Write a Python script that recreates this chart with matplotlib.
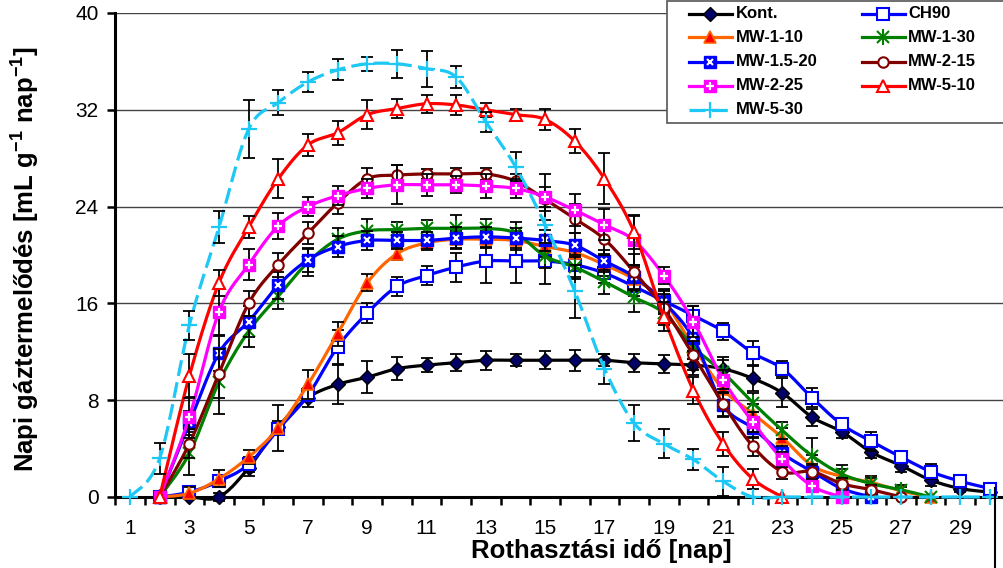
import numpy as np
import matplotlib
matplotlib.use("Agg")
import matplotlib.pyplot as plt
from matplotlib.patches import Rectangle

plt.rcParams['font.family'] = ['Liberation Sans', 'DejaVu Sans']
plt.rcParams['mathtext.fontset'] = 'custom'
plt.rcParams['mathtext.rm'] = 'Liberation Sans'
plt.rcParams['mathtext.bf'] = 'Liberation Sans:bold'

# ---------------- data ----------------
names = ["Kont.", "CH90", "MW-1-10", "MW-1-30", "MW-1.5-20",
         "MW-2-15", "MW-2-25", "MW-5-10", "MW-5-30"]

kont_start = 2
kont = [0, 0, 0, 2.4, 5.8, 8.2, 9.3, 9.9, 10.6, 10.9, 11.1, 11.3, 11.3, 11.3, 11.3,
        11.3, 11.1, 11.0, 10.9, 10.6, 9.8, 8.6, 6.6, 5.4, 3.7, 2.6, 1.4, 0.7, 0.4]
kont_err = [0, 0, 0.3, 0.7, 0.5, 0.8, 1.6, 1.3, 0.95, 0.6, 0.7, 0.8, 0.5, 0.75, 0.85,
            0.5, 0.75, 0.75, 0.8, 1.0, 1.05, 1.2, 0.7, 0.5, 0.5, 0.55, 0.5, 0.3, 0.3]

ch90_start = 2
ch90 = [0, 0.4, 1.3, 2.7, 5.6, 8.4, 12.4, 15.2, 17.4, 18.3, 19.0, 19.5, 19.5, 19.5, 19.2,
        18.5, 17.4, 16.2, 15.0, 13.7, 11.9, 10.6, 8.2, 6.0, 4.6, 3.3, 2.1, 1.3, 0.7]
ch90_err = [0, 0.3, 0.4, 0.6, 0.5, 0.5, 1.4, 0.8, 0.75, 0.75, 1.2, 1.8, 1.8, 1.9, 1.0,
            0.8, 0.8, 0.8, 0.8, 0.7, 1.0, 0.6, 0.8, 0.4, 0.8, 0.5, 0.6, 0.4, 0.4]

mw1_10_start = 2
mw1_10 = [0, 0.3, 1.5, 3.3, 5.7, 9.3, 13.5, 17.7, 20.1, 21.0, 21.3, 21.3, 21.2, 20.7, 20.2,
          19.2, 18.0, 16.2, 12.4, 8.9, 6.9, 4.9, 2.6, 1.7, 1.2, 0.5, 0]
mw1_10_err = [0, 0.5, 0.7, 0.6, 1.9, 1.2, 1.0, 0.7, 0.5, 0.6, 0.7, 0.7, 0.8, 0.9, 1.0,
              0.9, 1.0, 1.0, 1.0, 0.9, 0.8, 0.8, 0.9, 0.6, 0.5, 0.3, 0]

mw1_30_start = 2
mw1_30 = [0, 3.6, 9.5, 13.7, 16.6, 19.4, 21.3, 22.0, 22.1, 22.2, 22.2, 22.2, 21.8, 19.9, 19.0,
          17.8, 16.5, 15.2, 12.4, 10.3, 7.8, 5.5, 3.4, 1.9, 1.1, 0.6, 0]
mw1_30_err = [0, 1.8, 2.6, 1.3, 1.1, 1.1, 0.9, 1.0, 0.6, 0.7, 1.1, 0.8, 0.9, 1.0, 1.0,
              1.0, 1.2, 1.0, 1.0, 1.0, 0.8, 0.7, 1.5, 0.75, 0.5, 0.4, 0]

mw15_20_start = 2
mw15_20 = [0, 6.1, 11.9, 14.5, 17.5, 19.6, 20.7, 21.2, 21.2, 21.2, 21.4, 21.5, 21.4, 21.2, 20.8,
           19.5, 18.2, 16.1, 13.1, 7.6, 5.7, 3.6, 2.1, 0.7, 0]
mw15_20_err = [0, 1.0, 1.5, 1.3, 1.1, 1.0, 0.9, 0.8, 0.7, 0.7, 0.9, 0.8, 0.8, 0.9, 1.0,
               0.9, 1.0, 1.0, 1.0, 1.0, 0.8, 0.6, 0.5, 0.4, 0]

mw2_15_start = 2
mw2_15 = [0, 4.4, 10.2, 16.0, 19.2, 21.8, 24.3, 26.3, 26.6, 26.7, 26.7, 26.7, 26.1, 24.6, 23.0,
          21.3, 18.6, 15.6, 11.7, 7.7, 4.2, 2.1, 2.1, 1.1, 0.6, 0]
mw2_15_err = [0, 1.2, 2.0, 1.0, 1.0, 0.9, 0.9, 0.9, 0.8, 0.4, 0.5, 0.5, 0.6, 1.0, 1.2,
              1.3, 1.5, 1.2, 1.2, 1.0, 0.8, 0.6, 0.6, 0.5, 0.4, 0]

mw2_25_start = 2
mw2_25 = [0, 6.6, 15.3, 19.2, 22.4, 24.0, 24.9, 25.5, 25.8, 25.8, 25.8, 25.7, 25.5, 24.8, 23.7,
          22.5, 21.2, 18.3, 14.5, 9.7, 6.2, 3.1, 0.9, 0]
mw2_25_err = [0, 1.7, 2.0, 1.3, 1.1, 0.8, 0.8, 0.8, 1.6, 0.9, 0.7, 1.0, 0.8, 1.9, 1.3,
              1.3, 2.0, 0.7, 1.3, 0.8, 0.8, 0.6, 0.5, 0]

mw5_10_start = 2
mw5_10 = [0, 10.0, 17.7, 22.3, 26.3, 29.1, 30.1, 31.6, 32.1, 32.5, 32.4, 32.0, 31.6, 31.2, 29.4,
          26.3, 21.9, 14.9, 8.8, 4.4, 1.5, 0]
mw5_10_err = [0, 1.8, 1.1, 0.9, 1.6, 0.9, 1.0, 1.2, 0.8, 0.75, 0.85, 0.6, 0.5, 0.9, 1.0,
              2.1, 1.4, 1.2, 1.1, 1.0, 0.8, 0]

mw5_30_start = 1
mw5_30 = [0, 3.2, 14.2, 22.3, 30.4, 32.6, 34.3, 35.3, 35.8, 35.8, 35.4, 34.7, 31.0, 27.3, 22.5,
          17.0, 10.6, 6.1, 4.4, 3.1, 1.3, 0, 0, 0, 0, 0, 0, 0, 0, 0]
mw5_30_err = [0, 1.3, 1.2, 1.3, 2.4, 1.0, 0.8, 0.87, 0.6, 1.15, 1.5, 0.9, 0.8, 1.2, 1.5,
              2.2, 1.25, 1.5, 1.2, 0.9, 1.2, 0, 0, 0, 0, 0, 0, 0, 0, 0]

x_tick_labels = [str(d) for d in range(1, 30, 2)]
y_ticks = [0, 8, 16, 24, 32, 40]

series = [
    (kont_start, kont, kont_err),
    (ch90_start, ch90, ch90_err),
    (mw1_10_start, mw1_10, mw1_10_err),
    (mw1_30_start, mw1_30, mw1_30_err),
    (mw15_20_start, mw15_20, mw15_20_err),
    (mw2_15_start, mw2_15, mw2_15_err),
    (mw2_25_start, mw2_25, mw2_25_err),
    (mw5_10_start, mw5_10, mw5_10_err),
    (mw5_30_start, mw5_30, mw5_30_err),
]

# ---------------- styles ----------------
styles = [
    dict(c='black', ls='-', m=[('D', 7, '#000066', 'black', 1.0)]),
    dict(c='#0000FF', ls='-', m=[('s', 8, 'white', '#0000FF', 1.5)]),
    dict(c='#FF6600', ls='-', m=[('^', 9, '#FF0000', '#FF6600', 1.2)]),
    dict(c='#008000', ls='-', m=[('x', 9, 'none', '#008000', 1.5), ('|', 11, 'none', '#008000', 1.5)]),
    dict(c='#0000FF', ls='-', m=[('s', 9, '#0000FF', '#0000FF', 1.0), ('x', 5, 'none', 'white', 1.5)]),
    dict(c='#800000', ls='-', m=[('o', 7.5, 'white', '#800000', 1.5)]),
    dict(c='#FF00FF', ls='-', m=[('s', 9, '#FF00FF', '#FF00FF', 1.0), ('+', 6, 'none', 'white', 1.6)]),
    dict(c='#FF0000', ls='-', m=[('^', 9, 'white', '#FF0000', 1.5)]),
    dict(c='#1EC8F5', ls=(0, (5, 2)), m=[('+', 11, 'none', '#1EC8F5', 1.6)]),
]


def excel_smooth(x, y, n=24):
    pts = np.column_stack([x, y]).astype(float)
    out = [pts[0]]
    k = len(pts)
    t = np.linspace(0, 1, n + 1)[1:, None]
    for i in range(k - 1):
        p0 = pts[i - 1] if i > 0 else pts[i]
        p1 = pts[i]
        p2 = pts[i + 1]
        p3 = pts[i + 2] if i + 2 < k else pts[i + 1]
        c1 = p1 + (p2 - p0) / 6.0
        c2 = p2 - (p3 - p1) / 6.0
        seg = ((1 - t) ** 3) * p1 + 3 * ((1 - t) ** 2) * t * c1 + 3 * (1 - t) * t ** 2 * c2 + t ** 3 * p2
        out.extend(seg)
    out = np.array(out)
    return out[:, 0], out[:, 1]


W, H = 1004, 568
fig = plt.figure(figsize=(W / 100, H / 100), dpi=100)
ax = fig.add_axes([115.2 / W, 1 - 497 / H, (1004.8 - 115.2) / W, (497 - 13) / H])

for i, ((start, vals, errs), st) in enumerate(zip(series, styles)):
    days = np.arange(start, start + len(vals))
    vals = np.array(vals, float)
    errs = np.array(errs, float)
    z = 3 + i * 0.1
    sx, sy = excel_smooth(days, vals)
    ax.plot(sx, sy, color=st['c'], ls=st['ls'], lw=2.3, zorder=z, clip_on=False,
            solid_capstyle='round')
    mask = errs > 0
    ax.errorbar(days[mask], vals[mask], yerr=errs[mask], fmt='none', ecolor='black',
                elinewidth=1.3, capsize=4.5, capthick=1.3, zorder=z + 0.03, clip_on=False)
    for (mk, ms, fc, ec, mew) in st['m']:
        ax.plot(days, vals, ls='none', marker=mk, ms=ms, mfc=fc, mec=ec, mew=mew,
                zorder=z + 0.06, clip_on=False)

ax.set_xlim(0.5, 30.5)
ax.set_ylim(0, 40)
ax.set_yticks(y_ticks)
ax.set_yticklabels([str(v) for v in y_ticks], fontsize=15)
ax.set_xticks(np.arange(1, 30, 2))
ax.set_xticklabels(x_tick_labels, fontsize=15)
ax.set_xticks(np.arange(0.5, 31, 1), minor=True)
ax.tick_params(axis='x', which='major', length=0, pad=16)
ax.tick_params(axis='x', which='minor', length=6, width=1.8, direction='out')
ax.tick_params(axis='y', which='major', length=6, width=1.8, direction='out', pad=6)
ax.grid(axis='y', color='#444444', lw=1.0, zorder=1)
ax.set_axisbelow(True)
for s in ['top', 'right']:
    ax.spines[s].set_visible(False)
for s in ['left', 'bottom']:
    ax.spines[s].set_linewidth(2.2)
    ax.spines[s].set_zorder(2.5)

fig.text(601 / W, 1 - 551 / H, 'Rothasztási idő [nap]', ha='center', va='center',
         fontsize=18.5, fontweight='bold')
fig.text(25 / W, 1 - 259 / H, r'Napi gáztermelődés [mL g$^{\mathbf{-1}}$ nap$^{\mathbf{-1}}$]',
         ha='center', va='center', rotation=90, fontsize=18.5, fontweight='bold')

# ---------------- legend (drawn in pixel space) ----------------
lax = fig.add_axes([0, 0, 1, 1], zorder=10)
lax.set_xlim(0, W)
lax.set_ylim(H, 0)
lax.axis('off')
lax.add_patch(Rectangle((667, 1), 400, 122, facecolor='white', edgecolor='#555555', lw=1.2))
col_x = [(689, 732, 736), (862, 905, 908)]
row_y = [13.5, 37, 62, 86, 110]
order = [(0, 0, 0), (1, 0, 1), (2, 1, 0), (3, 1, 1), (4, 2, 0), (5, 2, 1),
         (6, 3, 0), (7, 3, 1), (8, 4, 0)]
for idx, r, c in order:
    st = styles[idx]
    x0, x1, tx = col_x[c]
    yy = row_y[r]
    lax.plot([x0, x1], [yy, yy], color=st['c'], ls=st['ls'], lw=2.3)
    for (mk, ms, fc, ec, mew) in st['m']:
        lax.plot([(x0 + x1) / 2], [yy], ls='none', marker=mk, ms=ms, mfc=fc, mec=ec, mew=mew)
    lax.text(tx, yy, names[idx], va='center', ha='left', fontsize=12, fontweight='bold')

# frame line at bottom right
lax.plot([995, 995], [488, 568], color='black', lw=1.5)

fig.savefig('out.png', dpi=100)
